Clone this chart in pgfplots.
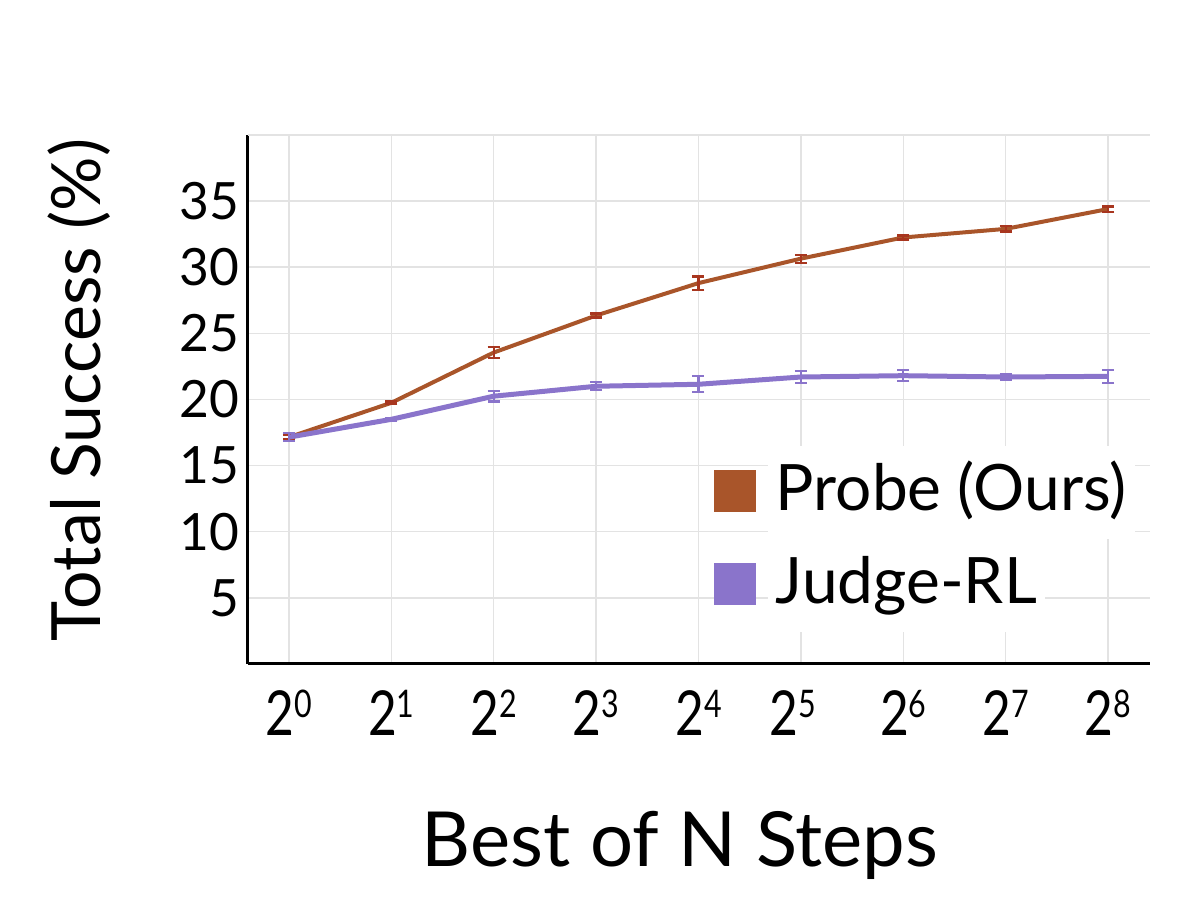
\documentclass[border=0pt]{standalone}
\usepackage{fontspec}
\setmainfont{Lato}
\usepackage{pgfplots}
\pgfplotsset{compat=1.18}

\definecolor{probe}{HTML}{A9552A}
\definecolor{probeerr}{HTML}{A8361F}
\definecolor{judge}{HTML}{8A74CB}

% power-of-two tick label with a raised exponent
\newcommand{\pw}[1]{2\raisebox{8.8pt}{\fontsize{19}{19}\selectfont #1}}

\begin{document}
\begin{tikzpicture}
\begin{axis}[
    name=ax,
    scale only axis,
    width=451pt, height=264.5pt,
    xmin=-0.4, xmax=8.41,
    ymin=0, ymax=40,
    axis x line=bottom, axis y line=left,
    axis line style={line width=1.5pt, -},
    xtick={0,...,8},
    xticklabels={\pw{0},\pw{1},\pw{2},\pw{3},\pw{4},\pw{5}\kern10pt,\pw{6},\pw{7},\pw{8}},
    ytick={5,10,...,35},
    extra y ticks={40}, extra y tick labels={},
    extra y tick style={grid=major},
    major tick length=0pt,
    grid=major,
    major grid style={line width=0.75pt, black!11},
    /pgf/number format/assume math mode=true,
    x tick label style={font=\fontsize{31}{31}\selectfont, xscale=0.8, inner sep=0pt, yshift=-13pt},
    y tick label style={font=\fontsize{25.7}{30}\selectfont, inner sep=0pt, xshift=-4pt},
    xlabel={Best of N Steps},
    xlabel style={font=\fontsize{38}{40}\selectfont, at={(rel axis cs:0.479,0)}, anchor=base, yshift=-101.5pt},
    ylabel={Total Success (\%)},
    ylabel style={font=\fontsize{34}{36}\selectfont, at={(rel axis cs:-0.163,0.518)}, anchor=base},
    legend style={at={(rel axis cs:0.516,0.413)}, anchor=north west, draw=none, fill=none,
        inner sep=0pt, row sep=0pt, column sep=6pt,
        font=\fontsize{32}{34}\selectfont,
        nodes={fill=white, inner xsep=4pt, inner ysep=7.5pt, text height=25pt, text depth=6.5pt}},
    legend cell align=left,
    legend image code/.code={\fill[#1, draw=none] (0pt,-10pt) rectangle (21pt,11pt);},
    error bars/error bar style={line width=1.1pt},
    error bars/error mark options={rotate=90, mark size=3pt, line width=1.1pt},
]
\addplot+[no marks, line width=2pt, color=probe,
    error bars/.cd, y dir=both, y explicit,
    error bar style={color=probeerr}, error mark options={rotate=90, mark size=3pt, line width=1.1pt, color=probeerr}]
coordinates {
    (0,17.15) +- (0,0.15)
    (1,19.75) +- (0,0.1)
    (2,23.55) +- (0,0.4)
    (3,26.35) +- (0,0.15)
    (4,28.8)  +- (0,0.5)
    (5,30.65) +- (0,0.3)
    (6,32.25) +- (0,0.15)
    (7,32.9)  +- (0,0.2)
    (8,34.4)  +- (0,0.2)
};
\addlegendentry{Probe (Ours)}
\addplot+[no marks, line width=2.5pt, color=judge,
    error bars/.cd, y dir=both, y explicit,
    error bar style={color=judge}, error mark options={rotate=90, mark size=3pt, line width=1.1pt, color=judge}]
coordinates {
    (0,17.15) +- (0,0.3)
    (1,18.5)  +- (0,0.1)
    (2,20.25) +- (0,0.4)
    (3,21.0)  +- (0,0.3)
    (4,21.15) +- (0,0.6)
    (5,21.7)  +- (0,0.45)
    (6,21.8)  +- (0,0.4)
    (7,21.7)  +- (0,0.25)
    (8,21.75) +- (0,0.5)
};
\addlegendentry{Judge-RL}
\end{axis}
\path ([shift={(-124pt,-126.5pt)}]ax.south west) rectangle ([shift={(25pt,67.5pt)}]ax.north east);
\end{tikzpicture}
\end{document}
